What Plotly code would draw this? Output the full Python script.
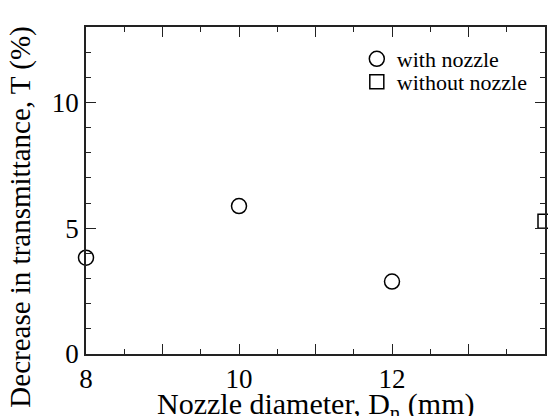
import plotly.graph_objects as go

# data
with_x = [8, 10, 12]
with_y = [3.83, 5.88, 2.88]
without_x = [14]
without_y = [5.28]

x_tickvals = [8, 9, 10, 11, 12, 13, 14]
x_ticktext = ["8", "", "10", "", "12", "", ""]
y_tickvals = [0, 5, 10]
y_ticktext = ["0", "5", "10"]

x_title = "Nozzle diameter, D<sub>n</sub> (mm)"
y_title = "Decrease in transmittance, T (%)"

font = "Liberation Serif"

fig = go.Figure()
fig.add_trace(go.Scatter(
    x=with_x, y=with_y, mode="markers", name="with nozzle", legend="legend",
    marker=dict(symbol="circle-open", size=15, color="black", line=dict(width=1.5, color="black")),
    cliponaxis=False,
))
fig.add_trace(go.Scatter(
    x=without_x, y=without_y, mode="markers", name="without nozzle", legend="legend2",
    marker=dict(symbol="square-open", size=14, color="black", line=dict(width=1.5, color="black")),
    cliponaxis=False,
))

axis_common = dict(
    showgrid=False, zeroline=False, showline=True, linecolor="#222", linewidth=1.5,
    ticks="inside", mirror="ticks", tickcolor="#222", tickwidth=1.2, ticklen=10,
    tickfont=dict(family=font, size=27, color="black"),
)

fig.update_xaxes(
    **axis_common, range=[8, 14], tickmode="array", tickvals=x_tickvals, ticktext=x_ticktext,
    minor=dict(dtick=0.5, ticks="inside", ticklen=5, tickcolor="#222", tickwidth=1.2),
)
fig.update_yaxes(
    **axis_common, range=[0, 13], tickmode="array", tickvals=y_tickvals, ticktext=y_ticktext,
    minor=dict(dtick=1, ticks="inside", ticklen=5, tickcolor="#222", tickwidth=1.2),
)

fig.add_annotation(text=x_title, xref="paper", yref="paper", x=0.5, y=-0.095,
                   xanchor="center", yanchor="top", showarrow=False,
                   font=dict(family=font, size=30, color="black"))
fig.add_annotation(text=y_title, xref="paper", yref="paper", x=-0.143, y=0.418,
                   xanchor="center", yanchor="middle", textangle=-90, showarrow=False,
                   font=dict(family=font, size=29, color="black"))

leg_common = dict(x=0.590, xanchor="left", yanchor="middle",
                  font=dict(family=font, size=22, color="black"),
                  bgcolor="rgba(0,0,0,0)", borderwidth=0, itemwidth=30)

fig.update_layout(
    width=548, height=416,
    margin=dict(l=86, r=1, t=27, b=62),
    paper_bgcolor="white", plot_bgcolor="white",
    font=dict(family=font, size=22, color="black"),
    showlegend=True,
    legend=dict(y=0.902, **leg_common),
    legend2=dict(y=0.832, **leg_common),
)

fig.write_html("out.html", config={"displayModeBar": False},
               post_script="document.body.style.margin='0';document.body.style.padding='0';")
